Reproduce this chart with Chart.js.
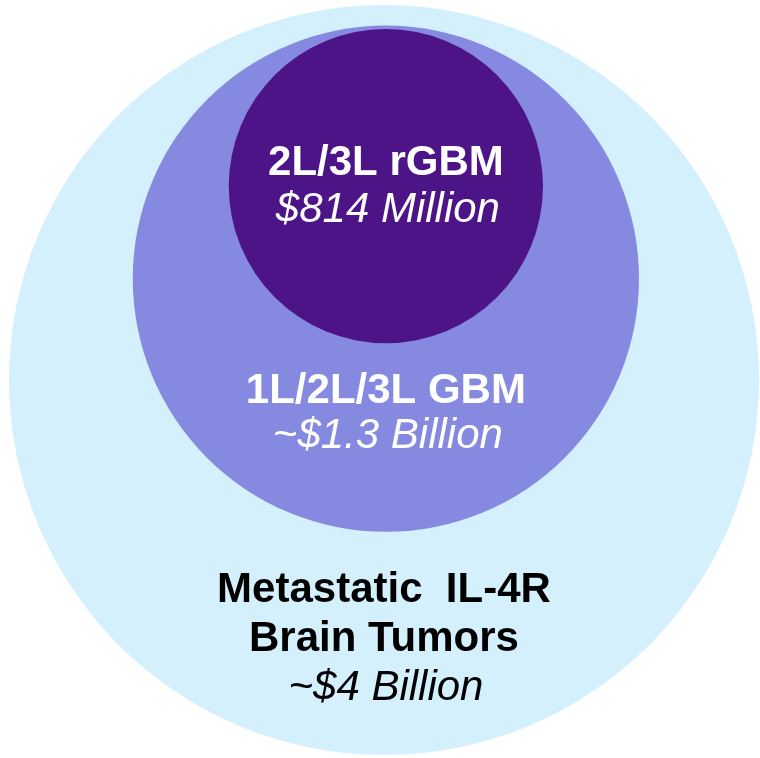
<!DOCTYPE html>
<html>
<head>
<meta charset="utf-8">
<script src="https://cdn.jsdelivr.net/npm/chart.js@4.4.1/dist/chart.umd.min.js"></script>
<style>
  html, body { margin: 0; padding: 0; background: #ffffff; }
  #wrap { width: 760px; height: 758px; }
</style>
</head>
<body>
<div id="wrap"><canvas id="marketChart" width="760" height="758"></canvas></div>
<script>
// market segments, outermost first (nested circles)
const segmentNames = [['Metastatic  IL-4R', 'Brain Tumors'], ['1L/2L/3L GBM'], ['2L/3L rGBM']];
const marketSizes = ['~$4 Billion', '~$1.3 Billion', '$814 Million'];
// circle centres and radii, in units of the outer circle's radius
const centerX = [0, 0.005, 0.005];
const centerY = [0, 0.27, 0.517];
const radii = [1, 0.675, 0.419];

const fills = ['#d5f0fd', '#8589e0', '#4c1486'];
const textColors = ['#000000', '#ffffff', '#ffffff'];
// first baseline relative to each circle centre (px), and line gap
const labelOffsets = [222, 124, -11];
const lineGaps = [49, 45, 47];

const ringLabels = {
  id: 'ringLabels',
  afterDatasetsDraw(chart) {
    const ctx = chart.ctx;
    const meta = chart.getDatasetMeta(0);
    ctx.save();
    ctx.textAlign = 'center';
    ctx.textBaseline = 'alphabetic';
    meta.data.forEach((pt, i) => {
      const lines = segmentNames[i].map(t => ({ text: t, italic: false }))
        .concat([{ text: marketSizes[i], italic: true }]);
      let y = pt.y + labelOffsets[i];
      ctx.fillStyle = textColors[i];
      lines.forEach(l => {
        ctx.font = l.italic ? 'italic 42px "Liberation Sans", Arial, sans-serif'
                            : 'bold 42px "Liberation Sans", Arial, sans-serif';
        ctx.fillText(l.text, pt.x + (l.italic ? 2 : 0), y);
        y += lineGaps[i];
      });
    });
    ctx.restore();
  }
};

// circle radius in pixels, taken from the x scale
function pxRadius(c) {
  const xs = c.chart.scales.x;
  const v = Math.abs(xs.getPixelForValue(radii[c.dataIndex]) - xs.getPixelForValue(0));
  return isFinite(v) ? v : 0;
}

new Chart(document.getElementById('marketChart'), {
  type: 'scatter',
  data: {
    datasets: [{
      data: centerX.map((x, i) => ({ x: x, y: centerY[i] })),
      pointBackgroundColor: fills,
      pointBorderWidth: 0,
      pointRadius: pxRadius,
      pointHoverRadius: pxRadius,
      showLine: false
    }]
  },
  options: {
    responsive: false,
    animation: false,
    events: [],
    layout: { padding: 0, autoPadding: false },
    plugins: { legend: { display: false }, tooltip: { enabled: false } },
    scales: {
      x: { type: 'linear', display: false, min: -1.024, max: 1.0027 },
      y: { type: 'linear', display: false, min: -1.008, max: 1.0133 }
    }
  },
  plugins: [ringLabels]
});
</script>
</body>
</html>
